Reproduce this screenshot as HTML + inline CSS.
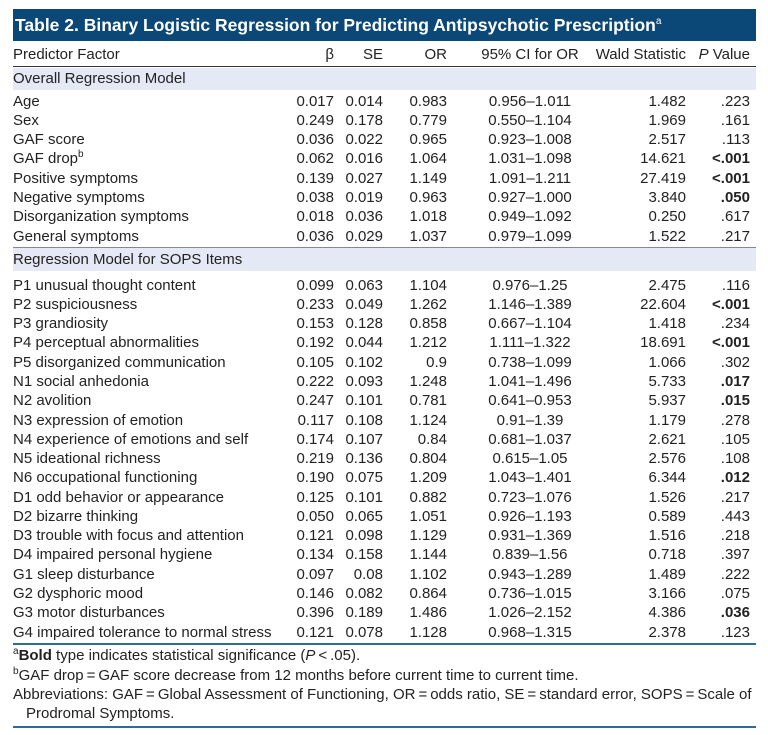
<!DOCTYPE html>
<html><head><meta charset="utf-8"><style>
body{margin:0;width:768px;height:735px;background:#fff;font-family:"Liberation Sans",sans-serif;color:#222;position:relative;overflow:hidden}
.bar{position:absolute;left:13px;top:9px;width:743px;height:32px;background:#0b4877;color:#fff;font-weight:bold;font-size:17.5px;line-height:32px;padding-left:2px;box-sizing:border-box;white-space:nowrap}
.bar sup{font-size:10px;font-weight:normal;line-height:0}
.row{position:absolute;left:13px;width:743px;height:19px;font-size:15px;line-height:19px;white-space:nowrap}
.row span{position:absolute;top:0}
.c0{left:0}
.c1{right:422px}
.c2{right:373px}
.c3{right:309px}
.c4{left:442px;width:150px;text-align:center}
.c5{right:70px}
.c6{right:6px}
.sh{position:absolute;left:13px;width:743px;background:#e5e8f5}
.ln{position:absolute;left:13px;width:743px;height:1.5px;background:#2f6a98}
.fn{position:absolute;left:13px;font-size:15px;line-height:19px;white-space:nowrap}
sup{font-size:10px;line-height:0}
b{font-weight:bold}
</style></head><body>
<div class="bar">Table 2. Binary Logistic Regression for Predicting Antipsychotic Prescription<sup>a</sup></div>
<div class="row" style="top:45px"><span class="c0">Predictor Factor</span><span class="c1">β</span><span class="c2">SE</span><span class="c3">OR</span><span class="c4">95% CI for OR</span><span class="c5">Wald Statistic</span><span class="c6"><i>P</i> Value</span></div>
<div class="ln" style="top:66px;height:1px;background:#333"></div>
<div class="sh" style="top:68px;height:22px"></div>
<div class="row" style="top:69px"><span class="c0">Overall Regression Model</span></div>
<div class="sh" style="top:248px;height:23px"></div>
<div class="ln" style="top:247px;height:1px;background:#888"></div>
<div class="row" style="top:250px"><span class="c0">Regression Model for SOPS Items</span></div>
<div class="ln" style="top:643px"></div>
<div class="ln" style="top:726px"></div>
<div id="rows"></div>
<script>
var d1=[["Age","0.017","0.014","0.983","0.956–1.011","1.482",".223"],
["Sex","0.249","0.178","0.779","0.550–1.104","1.969",".161"],
["GAF score","0.036","0.022","0.965","0.923–1.008","2.517",".113"],
["GAF drop<sup>b</sup>","0.062","0.016","1.064","1.031–1.098","14.621","<b>&lt;.001</b>"],
["Positive symptoms","0.139","0.027","1.149","1.091–1.211","27.419","<b>&lt;.001</b>"],
["Negative symptoms","0.038","0.019","0.963","0.927–1.000","3.840","<b>.050</b>"],
["Disorganization symptoms","0.018","0.036","1.018","0.949–1.092","0.250",".617"],
["General symptoms","0.036","0.029","1.037","0.979–1.099","1.522",".217"]];
var d2=[["P1 unusual thought content","0.099","0.063","1.104","0.976–1.25","2.475",".116"],
["P2 suspiciousness","0.233","0.049","1.262","1.146–1.389","22.604","<b>&lt;.001</b>"],
["P3 grandiosity","0.153","0.128","0.858","0.667–1.104","1.418",".234"],
["P4 perceptual abnormalities","0.192","0.044","1.212","1.111–1.322","18.691","<b>&lt;.001</b>"],
["P5 disorganized communication","0.105","0.102","0.9","0.738–1.099","1.066",".302"],
["N1 social anhedonia","0.222","0.093","1.248","1.041–1.496","5.733","<b>.017</b>"],
["N2 avolition","0.247","0.101","0.781","0.641–0.953","5.937","<b>.015</b>"],
["N3 expression of emotion","0.117","0.108","1.124","0.91–1.39","1.179",".278"],
["N4 experience of emotions and self","0.174","0.107","0.84","0.681–1.037","2.621",".105"],
["N5 ideational richness","0.219","0.136","0.804","0.615–1.05","2.576",".108"],
["N6 occupational functioning","0.190","0.075","1.209","1.043–1.401","6.344","<b>.012</b>"],
["D1 odd behavior or appearance","0.125","0.101","0.882","0.723–1.076","1.526",".217"],
["D2 bizarre thinking","0.050","0.065","1.051","0.926–1.193","0.589",".443"],
["D3 trouble with focus and attention","0.121","0.098","1.129","0.931–1.369","1.516",".218"],
["D4 impaired personal hygiene","0.134","0.158","1.144","0.839–1.56","0.718",".397"],
["G1 sleep disturbance","0.097","0.08","1.102","0.943–1.289","1.489",".222"],
["G2 dysphoric mood","0.146","0.082","0.864","0.736–1.015","3.166",".075"],
["G3 motor disturbances","0.396","0.189","1.486","1.026–2.152","4.386","<b>.036</b>"],
["G4 impaired tolerance to normal stress","0.121","0.078","1.128","0.968–1.315","2.378",".123"]];
var h="";
function add(d,y0,st){d.forEach(function(r,i){var t=y0+i*st;h+='<div class="row" style="top:'+t.toFixed(1)+'px">';r.forEach(function(c,j){h+='<span class="c'+j+'">'+c+'</span>'});h+='</div>'})}
add(d1,91.5,19.3);add(d2,275.5,19.28);
document.getElementById("rows").innerHTML=h;
</script>
<div class="fn" style="top:646px"><sup>a</sup><b>Bold</b> type indicates statistical significance (<i>P</i>&thinsp;&lt;&thinsp;.05).</div>
<div class="fn" style="top:666px"><sup>b</sup>GAF drop&thinsp;=&thinsp;GAF score decrease from 12 months before current time to current time.</div>
<div class="fn" style="top:685px">Abbreviations: GAF&thinsp;=&thinsp;Global Assessment of Functioning, OR&thinsp;=&thinsp;odds ratio, SE&thinsp;=&thinsp;standard error, SOPS&thinsp;=&thinsp;Scale of</div>
<div class="fn" style="top:704px;left:26px">Prodromal Symptoms.</div>
</body></html>
